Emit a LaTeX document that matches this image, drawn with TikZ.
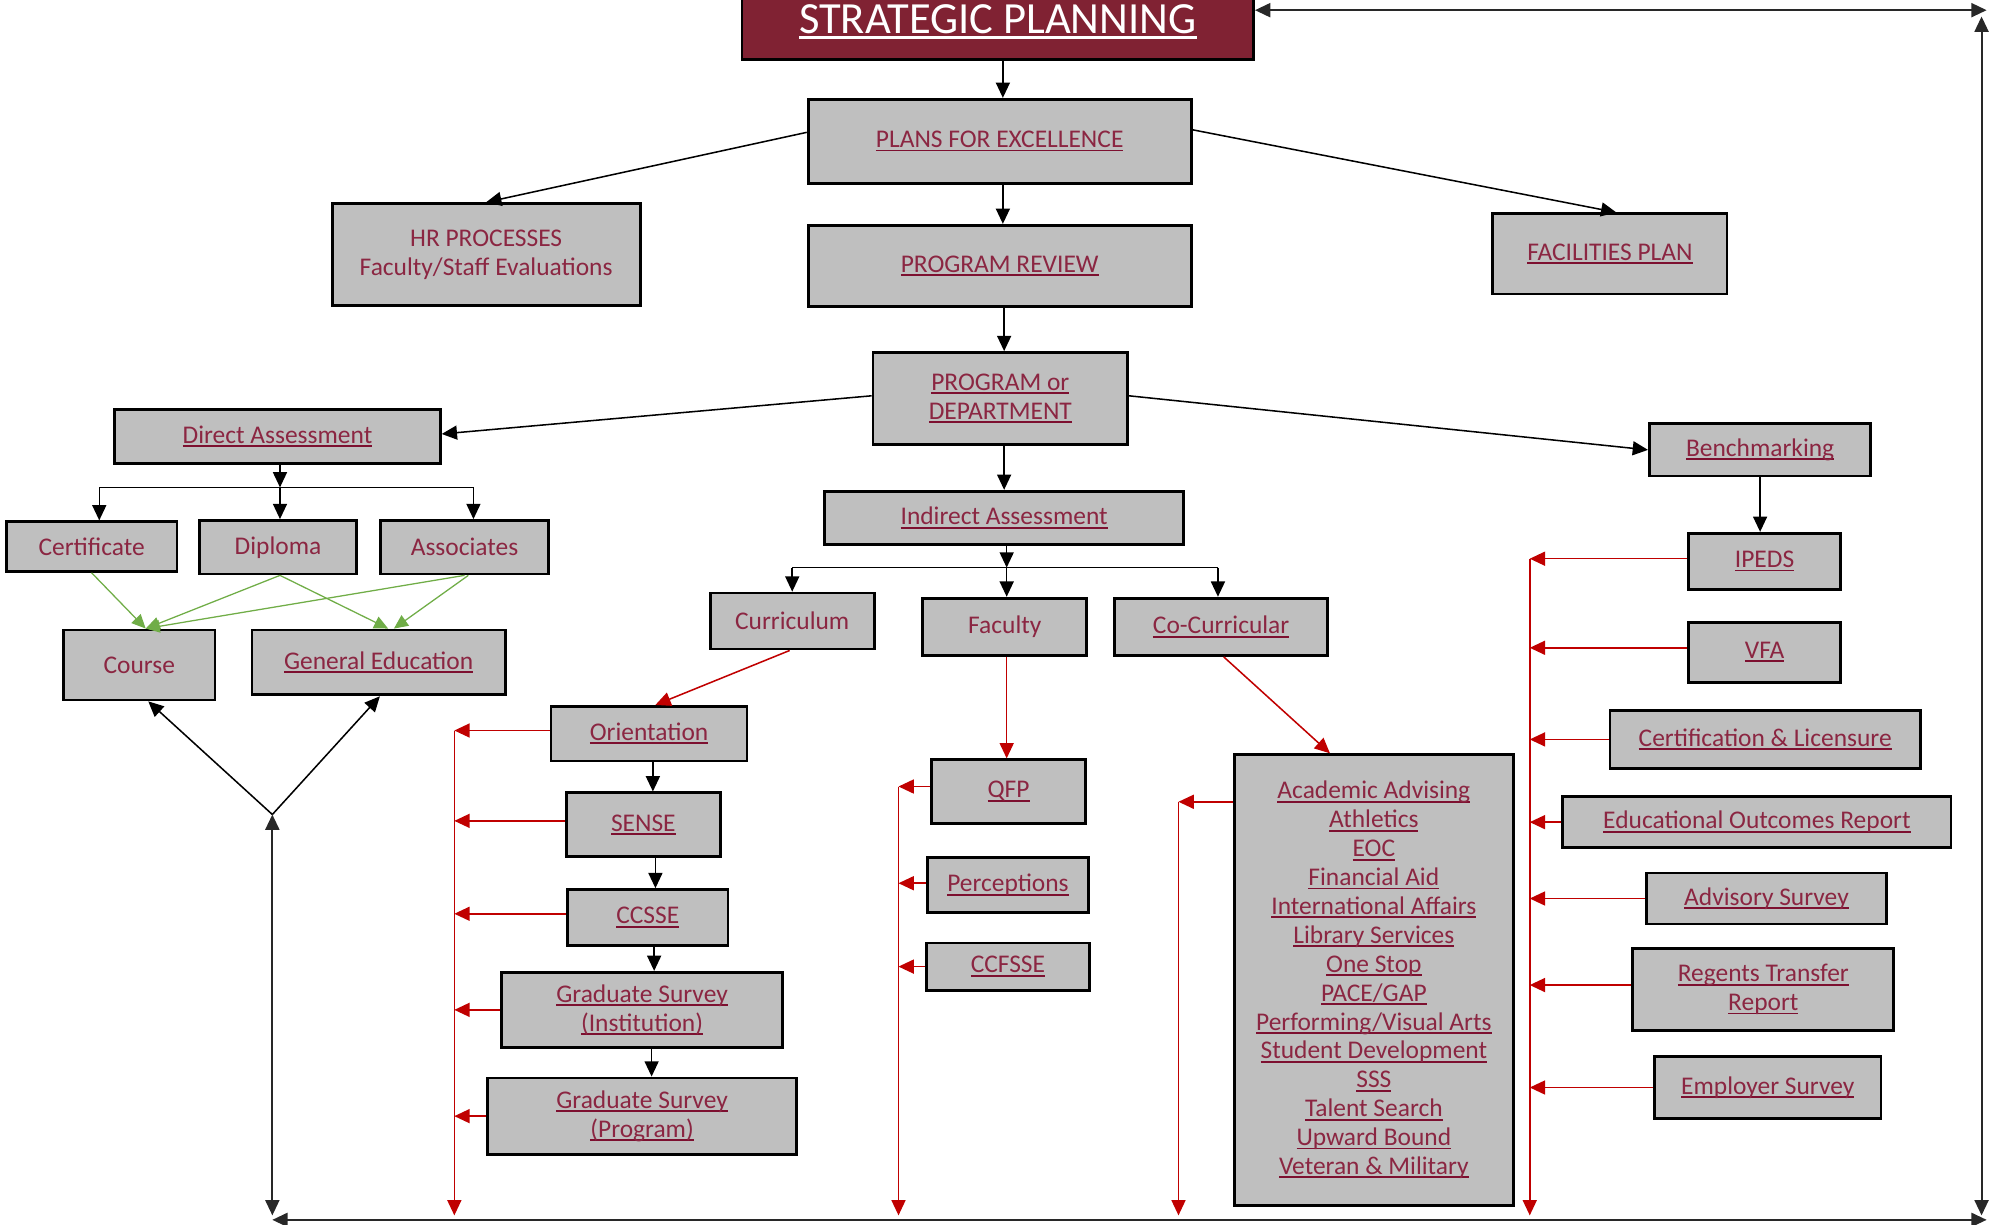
\documentclass[tikz,border=0pt]{standalone}
\usepackage{fontspec}
\setmainfont{Carlito}
\usetikzlibrary{arrows.meta}
\definecolor{boxgray}{RGB}{191,191,191}
\definecolor{txt}{RGB}{139,38,66}
\definecolor{ulc}{RGB}{125,16,48}
\definecolor{spred}{RGB}{128,34,51}
\definecolor{lred}{RGB}{192,0,0}
\definecolor{lgreen}{RGB}{112,173,71}
\definecolor{frame}{RGB}{40,40,40}
\newcommand\ul[1]{\setbox0\hbox{#1}\rlap{\color{ulc}\rule[-3pt]{\wd0}{1.5pt}}\box0}
\newcommand\wul[1]{\setbox0\hbox{#1}\rlap{\color{white}\rule[-4.5pt]{\wd0}{2.2pt}}\box0}
\begin{document}
\begin{tikzpicture}[x=1pt,y=-1pt,
  box/.style={draw=black, line width=2.2pt, fill=boxgray, text=txt, inner sep=0pt,
    align=center, font=\fontsize{20}{22.7}\selectfont},
  arr/.style={line width=1.2pt, draw=black, -{Triangle[length=12pt,width=11pt]}},
  darr/.style={line width=1.5pt, draw=frame, {Triangle[length=12pt,width=11pt]}-{Triangle[length=12pt,width=11pt]}},
  redarr/.style={line width=1.2pt, draw=lred, -{Triangle[length=12pt,width=11pt]}},
  grarr/.style={line width=1pt, draw=lgreen, -{Triangle[length=11pt,width=10pt]}},
  plain/.style={line width=1.2pt, draw=black}]
\useasboundingbox (0,0) rectangle (1566,962.5);

% top
\node[box, fill=spred, text=white, minimum width=402pt, minimum height=60pt, font=\fontsize{35}{40}\selectfont] (sp) at (784,17) {\raisebox{1pt}{\wul{STRATEGIC PLANNING}}};
\node[box, minimum width=301pt, minimum height=66pt] (pfe) at (785.5,111) {\ul{PLANS FOR EXCELLENCE}};
\node[box, minimum width=242pt, minimum height=80pt] (hr) at (382,200) {HR PROCESSES\\Faculty/Staff Evaluations};
\node[box, minimum width=301pt, minimum height=64pt] (pr) at (785.5,209) {\ul{PROGRAM REVIEW}};
\node[box, minimum width=184pt, minimum height=63pt] (fac) at (1265,199.5) {\ul{FACILITIES PLAN}};
\node[box, minimum width=200pt, minimum height=72pt] (pod) at (786,313) {\ul{PROGRAM or}\\\ul{DEPARTMENT}};

% direct assessment branch
\node[box, minimum width=256pt, minimum height=42pt] (da) at (218,343) {\ul{Direct Assessment}};
\node[box, minimum width=134pt, minimum height=39pt] (cert) at (72,429.5) {Certificate};
\node[box, minimum width=123pt, minimum height=42pt] (dip) at (218.5,430) {Diploma};
\node[box, minimum width=132pt, minimum height=42pt] (asc) at (365,430) {Associates};
\node[box, minimum width=119pt, minimum height=55pt] (course) at (109.5,522.5) {Course};
\node[box, minimum width=199pt, minimum height=51pt] (gen) at (297.5,520.5) {\ul{General Education}};

% indirect assessment branch
\node[box, minimum width=282pt, minimum height=42pt] (ia) at (789,407) {\ul{Indirect Assessment}};
\node[box, minimum width=129pt, minimum height=44pt] (curr) at (622.5,488) {Curriculum};
\node[box, minimum width=129pt, minimum height=45pt] (facu) at (789.5,492.5) {Faculty};
\node[box, minimum width=167pt, minimum height=45pt] (cocu) at (959.5,492.5) {\ul{Co-Curricular}};

\node[box, minimum width=154pt, minimum height=43pt] (ori) at (510,576.5) {\ul{Orientation}};
\node[box, minimum width=121pt, minimum height=50pt] (sense) at (505.5,648) {\ul{SENSE}};
\node[box, minimum width=126pt, minimum height=44pt] (ccsse) at (509,721) {\ul{CCSSE}};
\node[box, minimum width=221pt, minimum height=59pt] (gsi) at (504.5,793.5) {\ul{Graduate Survey}\\\ul{(Institution)}};
\node[box, minimum width=243pt, minimum height=60pt] (gsp) at (504.5,877) {\ul{Graduate Survey}\\\ul{(Program)}};

\node[box, minimum width=121pt, minimum height=50pt] (qfp) at (792.5,622) {\ul{QFP}};
\node[box, minimum width=126pt, minimum height=43pt] (perc) at (792,695.5) {\ul{Perceptions}};
\node[box, minimum width=128pt, minimum height=37pt] (ccf) at (792,759.5) {\ul{CCFSSE}};

\node[box, minimum width=219pt, minimum height=354pt] (big) at (1079.5,770) {\ul{Academic Advising}\\\ul{Athletics}\\\ul{EOC}\\\ul{Financial Aid}\\\ul{International Affairs}\\\ul{Library Services}\\\ul{One Stop}\\\ul{PACE/GAP}\\\ul{Performing/Visual Arts}\\\ul{Student Development}\\\ul{SSS}\\\ul{Talent Search}\\\ul{Upward Bound}\\\ul{Veteran \& Military}};

% benchmarking branch
\node[box, minimum width=174pt, minimum height=41pt] (bm) at (1383,353.5) {\ul{Benchmarking}};
\node[box, minimum width=119pt, minimum height=44pt] (ipeds) at (1386.5,441) {\ul{IPEDS}};
\node[box, minimum width=119pt, minimum height=47pt] (vfa) at (1386.5,512.5) {\ul{VFA}};
\node[box, minimum width=244pt, minimum height=46pt] (cl) at (1387,581) {\ul{Certification \& Licensure}};
\node[box, minimum width=305pt, minimum height=40pt] (eor) at (1380.5,646) {\ul{Educational Outcomes Report}};
\node[box, minimum width=188pt, minimum height=40pt] (adv) at (1388,706) {\ul{Advisory Survey}};
\node[box, minimum width=205pt, minimum height=65pt] (reg) at (1385.5,777.5) {\ul{Regents Transfer}\\\ul{Report}};
\node[box, minimum width=178pt, minimum height=49pt] (emp) at (1389,854.5) {\ul{Employer Survey}};

% coordinates
\coordinate (tr) at (1561,8);
\coordinate (rtop) at (1557,13);
\coordinate (rbot) at (1557,955);
\coordinate (bl) at (214,958.5);
\coordinate (br) at (1561,958.5);
\coordinate (vjoin) at (214,640);
\coordinate (lbot) at (214,955);
\coordinate (daj) at (220,383);
\coordinate (iaj) at (791,446);
\coordinate (c1top) at (357,574);
\coordinate (c1bot) at (357,955);
\coordinate (c2top) at (706,618);
\coordinate (c2bot) at (706,955);
\coordinate (c3top) at (926,630);
\coordinate (c3bot) at (926,955);
\coordinate (c4top) at (1202,439);
\coordinate (c4bot) at (1202,955);

% frame
\draw[darr] (sp.east |- tr) -- (tr);
\draw[darr] (rtop) -- (rbot);
\draw[darr] (bl) -- (br);
\draw[darr] (vjoin) -- (lbot);
\draw[arr] (vjoin) -- ([xshift=7pt]course.south);
\draw[arr] (vjoin) -- ([xshift=1pt]gen.south);

% main spine
\draw[arr] ([xshift=4pt]sp.south) -- ([xshift=2.5pt]pfe.north);
\draw[arr] ([yshift=7pt]pfe.west) -- (hr.north);
\draw[arr] ([yshift=9pt]pfe.east) -- ([xshift=5pt]fac.north);
\draw[arr] ([xshift=2.5pt]pfe.south) -- ([xshift=2.5pt]pr.north);
\draw[arr] ([xshift=3.5pt]pr.south) -- ([xshift=3pt]pod.north);
\draw[arr] ([yshift=2pt]pod.west) -- ([yshift=2pt]da.east);
\draw[arr] ([yshift=2pt]pod.east) -- (bm.west);
\draw[arr] ([xshift=3pt]pod.south) -- ([xshift=0pt]ia.north);

% direct assessment fork
\draw[arr] ([xshift=2pt]da.south) -- (daj);
\draw[plain] ([xshift=6pt]cert.north |- daj) -- ([xshift=7pt]asc.north |- daj);
\draw[arr] ([xshift=6pt]cert.north |- daj) -- ([xshift=6pt]cert.north);
\draw[arr] (daj) -- ([xshift=1.5pt]dip.north);
\draw[arr] ([xshift=7pt]asc.north |- daj) -- ([xshift=7pt]asc.north);

% green
\draw[grarr] (cert.south) -- ([xshift=5pt]course.north);
\draw[grarr] ([xshift=1.5pt]dip.south) -- ([xshift=5pt]course.north);
\draw[grarr] ([xshift=1.5pt]dip.south) -- ([xshift=7.5pt]gen.north);
\draw[grarr] ([xshift=0pt]asc.south) -- ([xshift=5pt]course.north);
\draw[grarr] ([xshift=3pt]asc.south) -- ([xshift=12pt]gen.north);

% indirect fork
\draw[arr] ([xshift=2pt]ia.south) -- (iaj);
\draw[plain] (curr.north |- iaj) -- ([xshift=-2.5pt]cocu.north |- iaj);
\draw[arr] (curr.north |- iaj) -- (curr.north);
\draw[arr] (iaj) -- ([xshift=1.5pt]facu.north);
\draw[arr] ([xshift=-2.5pt]cocu.north |- iaj) -- ([xshift=-2.5pt]cocu.north);

% curriculum column
\draw[redarr] ([xshift=-2pt]curr.south) -- ([xshift=5pt]ori.north);
\draw[arr] ([xshift=3pt]ori.south) -- ([xshift=7.5pt]sense.north);
\draw[arr] ([xshift=9.5pt]sense.south) -- ([xshift=6pt]ccsse.north);
\draw[arr] ([xshift=5pt]ccsse.south) -- ([xshift=9.5pt]gsi.north);
\draw[arr] ([xshift=7.5pt]gsi.south) -- ([xshift=7.5pt]gsp.north);
\draw[redarr] (c1top) -- (c1bot);
\draw[redarr] ([yshift=2.5pt]ori.west) -- ([yshift=2.5pt]ori.west -| c1top);
\draw[redarr] ([yshift=3pt]sense.west) -- ([yshift=3pt]sense.west -| c1top);
\draw[redarr] ([yshift=3pt]ccsse.west) -- ([yshift=3pt]ccsse.west -| c1top);
\draw[redarr] (gsi.west) -- (gsi.west -| c1top);
\draw[redarr] (gsp.west) -- (gsp.west -| c1top);

% faculty column
\draw[redarr] ([xshift=1.5pt]facu.south) -- ([xshift=-1.5pt]qfp.north);
\draw[redarr] (c2top) -- (c2bot);
\draw[redarr] ([yshift=4pt]qfp.west) -- ([yshift=4pt]qfp.west -| c2top);
\draw[redarr] ([yshift=1.5pt]perc.west) -- ([yshift=1.5pt]perc.west -| c2top);
\draw[redarr] (ccf.west) -- (ccf.west -| c2top);

% co-curricular column
\draw[redarr] ([xshift=2pt]cocu.south) -- ([xshift=-34.5pt]big.north);
\draw[redarr] (c3top) -- (c3bot);
\draw[redarr] (big.west |- c3top) -- (c3top);

% benchmarking column
\draw[arr] (bm.south) -- (bm.south |- ipeds.north);
\draw[redarr] (c4top) -- (c4bot);
\draw[redarr] (ipeds.west |- c4top) -- (c4top);
\draw[redarr] ([yshift=3.5pt]vfa.west) -- ([yshift=3.5pt]vfa.west -| c4top);
\draw[redarr] (cl.west) -- (cl.west -| c4top);
\draw[redarr] (eor.west) -- (eor.west -| c4top);
\draw[redarr] (adv.west) -- (adv.west -| c4top);
\draw[redarr] ([yshift=3.5pt]reg.west) -- ([yshift=3.5pt]reg.west -| c4top);
\draw[redarr] (emp.west) -- (emp.west -| c4top);
\end{tikzpicture}
\end{document}
